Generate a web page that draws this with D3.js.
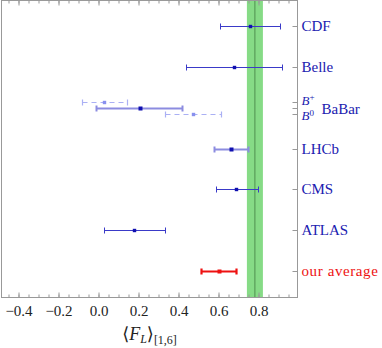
<!DOCTYPE html>
<html>
<head>
<meta charset="utf-8">
<script src="https://cdn.jsdelivr.net/npm/d3@7"></script>
<style>
  body { margin: 0; background: #fff; }
  text { font-family: "Liberation Serif", "DejaVu Serif", serif; }
</style>
</head>
<body>
<div id="chart"></div>
<script>
// measurements (rows top to bottom)
var experiments = ["CDF", "Belle", "BaBar", "LHCb", "CMS", "ATLAS", "our average"];
var central = [0.76, 0.68, 0.21, 0.665, 0.69, 0.18, 0.605];
var lower   = [0.61, 0.44, -0.01, 0.58, 0.59, 0.03, 0.515];
var upper   = [0.91, 0.92, 0.42, 0.75, 0.80, 0.335, 0.69];

// BaBar split in B+ and B0
var babarModes   = ["B+", "B0"];
var babarCentral = [0.03, 0.475];
var babarLower   = [-0.08, 0.335];
var babarUpper   = [0.145, 0.615];

// SM / average band
var band = [0.742, 0.822];
var bandCenter = 0.782;

var xTicks = [-0.4, -0.2, 0.0, 0.2, 0.4, 0.6, 0.8];

var W = 382, H = 348;
var plot = {left: 1.5, right: 297.5, top: 0.5, bottom: 297.5};

var svg = d3.select("#chart").append("svg")
    .attr("width", W).attr("height", H);

var x = d3.scaleLinear().domain([-0.485, 0.995]).range([plot.left, plot.right]);
var y = d3.scaleLinear().domain([0, 6]).range([26, 271]);

// green band
svg.append("rect")
  .attr("x", x(band[0]))
  .attr("y", plot.top)
  .attr("width", x(band[1]) - x(band[0]))
  .attr("height", plot.bottom - plot.top)
  .attr("fill", "#86db86");
svg.append("line")
  .attr("x1", x(bandCenter)).attr("x2", x(bandCenter))
  .attr("y1", plot.top).attr("y2", plot.bottom)
  .attr("stroke", "#4f8f4f").attr("stroke-width", 1);

// frame
var frameColor = "#999";
svg.append("rect")
  .attr("x", plot.left).attr("y", plot.top)
  .attr("width", plot.right - plot.left)
  .attr("height", plot.bottom - plot.top)
  .attr("fill", "none").attr("stroke", frameColor).attr("stroke-width", 1);

// bottom axis
var minor = d3.range(-0.45, 1.0, 0.05).map(function(d) { return Math.round(d * 100) / 100; });
var fmt = function(d) { return d3.format(".1f")(d).replace("-", "\u2212"); };

svg.append("g")
  .attr("transform", "translate(0," + plot.bottom + ")")
  .call(d3.axisBottom(x).tickValues(minor).tickSize(-3).tickFormat(""));
var bottomMajor = svg.append("g")
  .attr("transform", "translate(0," + plot.bottom + ")")
  .call(d3.axisBottom(x).tickValues(xTicks).tickSize(-5).tickPadding(8).tickFormat(fmt));
bottomMajor.selectAll("text")
  .attr("font-family", "Liberation Serif, serif")
  .attr("font-size", 15).attr("fill", "#222");

// top axis
svg.append("g")
  .attr("transform", "translate(0," + plot.top + ")")
  .call(d3.axisTop(x).tickValues(minor).tickSize(-3).tickFormat(""));
svg.append("g")
  .attr("transform", "translate(0," + plot.top + ")")
  .call(d3.axisTop(x).tickValues(xTicks).tickSize(-5).tickFormat(""));
svg.selectAll(".domain").remove();
svg.selectAll(".tick line").attr("stroke", frameColor);

// right axis ticks
var rightTicks = [0, 1, 2 - 0.15, 2, 2 + 0.15, 3, 4, 5, 6];
svg.selectAll("line.rtick").data(rightTicks).enter().append("line")
  .attr("class", "rtick")
  .attr("x1", plot.right - 5).attr("x2", plot.right)
  .attr("y1", function(d) { return Math.round(y(d)) + 0.5; })
  .attr("y2", function(d) { return Math.round(y(d)) + 0.5; })
  .attr("stroke", frameColor);

// error bars
function errorBar(g, lo, c, hi, yy, color, width, dash, r, dot) {
  var yp = Math.round(yy) + 0.5;
  g.append("line")
    .attr("x1", x(lo)).attr("x2", x(hi))
    .attr("y1", yp).attr("y2", yp)
    .attr("stroke", color).attr("stroke-width", width)
    .attr("stroke-dasharray", dash);
  [lo, hi].forEach(function(v) {
    g.append("line")
      .attr("x1", x(v)).attr("x2", x(v))
      .attr("y1", yp - 3).attr("y2", yp + 3)
      .attr("stroke", color).attr("stroke-width", width);
  });
  g.append("rect")
    .attr("x", x(c) - r).attr("y", yp - r)
    .attr("width", 2 * r).attr("height", 2 * r)
    .attr("fill", dot);
}

var bars = svg.append("g");
experiments.forEach(function(name, i) {
  var color = "#3a3ac8", w = 1, r = 1.7, dot = "#1010b0";
  if (name === "BaBar" || name === "LHCb") { color = "#8c8ce0"; w = 2; r = 2; }
  if (name === "our average") { color = "#ee1111"; w = 2.2; r = 2; dot = "#ee1111"; }
  errorBar(bars, lower[i], central[i], upper[i], y(i), color, w, null, r, dot);
});
babarModes.forEach(function(m, i) {
  var yy = y(2) + (i === 0 ? -6 : 6);
  errorBar(bars, babarLower[i], babarCentral[i], babarUpper[i], yy, "#aab0f4", 1.2, "5,4", 1.7, "#8890ee");
});

// row labels
var labelColor = "#2020b0";
var labels = svg.append("g").attr("font-size", 15);
experiments.forEach(function(name, i) {
  if (name === "BaBar") return;
  labels.append("text")
    .attr("x", plot.right + 4)
    .attr("y", y(i) + 5)
    .attr("fill", name === "our average" ? "#ee1111" : labelColor)
    .attr("letter-spacing", name === "our average" ? 0.6 : 0)
    .text(name);
});
// BaBar label with stacked B+ / B0
var by = y(2);
var bl = labels.append("g").attr("fill", labelColor);
var t1 = bl.append("text").attr("x", plot.right + 4).attr("y", by - 3).attr("font-size", 13);
t1.append("tspan").attr("font-style", "italic").text("B");
t1.append("tspan").attr("font-size", 9).attr("dy", -5).text("+");
var t2 = bl.append("text").attr("x", plot.right + 4).attr("y", by + 12).attr("font-size", 13);
t2.append("tspan").attr("font-style", "italic").text("B");
t2.append("tspan").attr("font-size", 9).attr("dy", -4).text("0");
bl.append("text").attr("x", plot.right + 24).attr("y", by + 6).text("BaBar");

// x axis title
var xt = svg.append("text")
  .attr("x", (plot.left + plot.right) / 2)
  .attr("y", 340)
  .attr("text-anchor", "middle")
  .attr("font-size", 18)
  .attr("fill", "#222");
xt.append("tspan").text("\u27E8");
xt.append("tspan").attr("font-style", "italic").text("F");
xt.append("tspan").attr("font-style", "italic").attr("font-size", 12).attr("dy", 3).text("L");
xt.append("tspan").attr("dy", -3).text("\u27E9");
xt.append("tspan").attr("font-size", 12).attr("dy", 4).text("[1,6]");
</script>
</body>
</html>
